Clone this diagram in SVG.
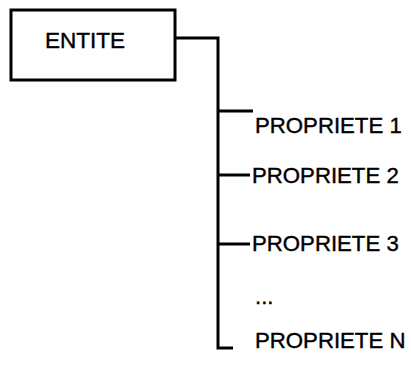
<svg xmlns="http://www.w3.org/2000/svg" width="411" height="367" viewBox="0 0 411 367">
<style>
.box{fill:#fff;stroke:#000;stroke-width:3}
.ln{fill:none;stroke:#000;stroke-width:3}
text{font-family:"Liberation Sans",Arial,sans-serif;font-size:22.2px;fill:#000;stroke:#000;stroke-width:0.4}
</style>
<rect width="411" height="367" fill="#fff"/>
<g id="connectors">
<path class="ln" d="M175 38 H218 V348 H233"/>
<path class="ln" d="M218 111 H253"/>
<path class="ln" d="M218 175 H250"/>
<path class="ln" d="M218 244 H250"/>
</g>
<g id="entite">
<rect class="box" x="11" y="10" width="164" height="70"/>
<text x="45" y="48" style="font-size:22.5px">ENTITE</text>
</g>
<g id="p1"><text x="255" y="133">PROPRIETE 1</text></g>
<g id="p2"><text x="252" y="183">PROPRIETE 2</text></g>
<g id="p3"><text x="252" y="251">PROPRIETE 3</text></g>
<g id="dots"><text x="255" y="304">...</text></g>
<g id="pn"><text x="255" y="348">PROPRIETE N</text></g>
</svg>
